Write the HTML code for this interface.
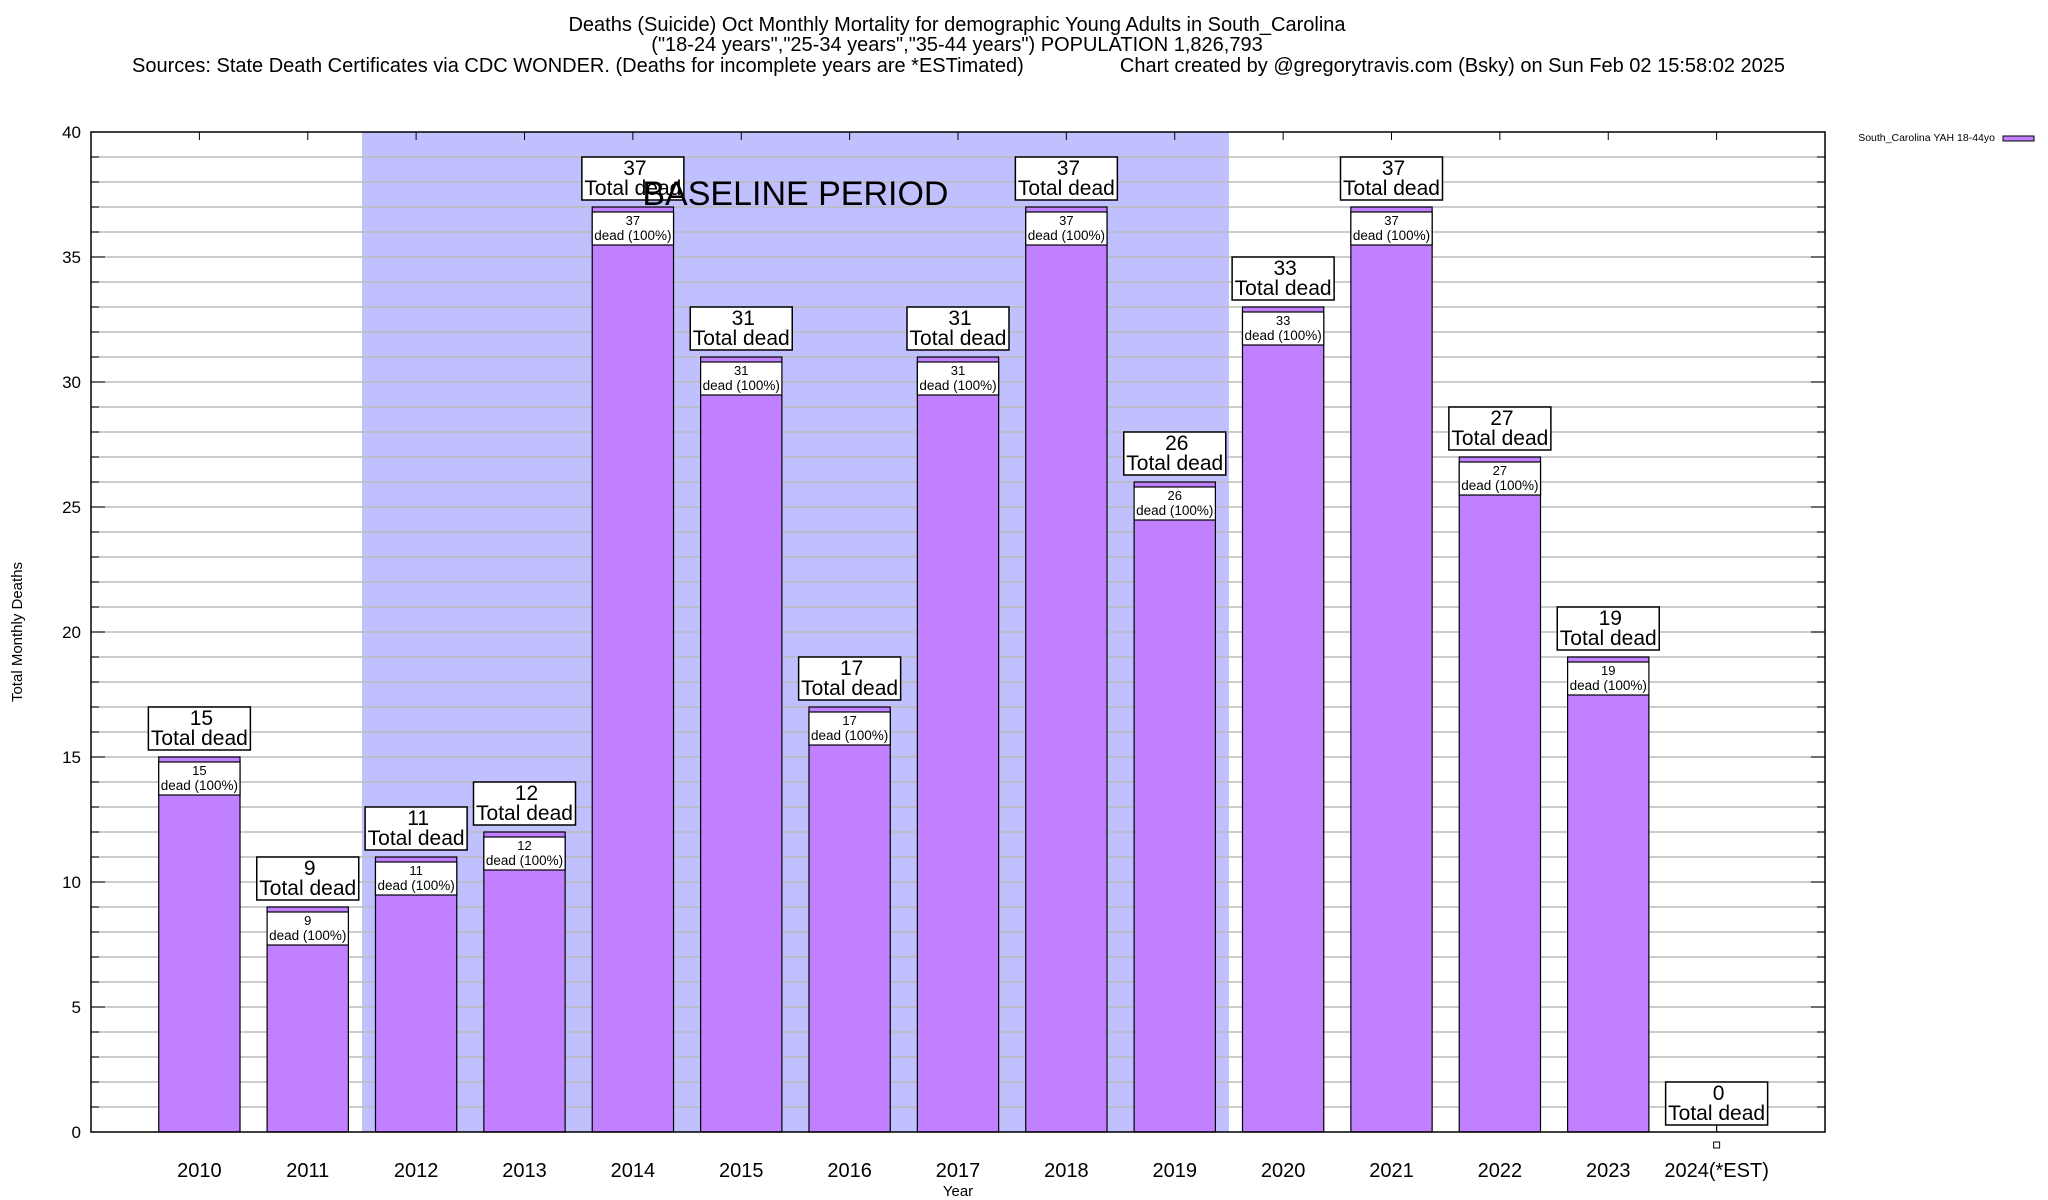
<!DOCTYPE html>
<html><head><meta charset="utf-8"><style>
html,body{margin:0;padding:0;background:#fff;}
svg{display:block;font-family:"Liberation Sans",sans-serif;}
</style></head><body>
<svg id="chart" width="2048" height="1200" xmlns="http://www.w3.org/2000/svg">
<g font-size="20" text-anchor="middle" fill="#000">
<text x="957" y="31">Deaths (Suicide) Oct Monthly Mortality for demographic Young Adults in South_Carolina</text>
<text x="957" y="51">("18-24 years","25-34 years","35-44 years") POPULATION 1,826,793</text>
<text x="132" y="72" text-anchor="start">Sources: State Death Certificates via CDC WONDER. (Deaths for incomplete years are *ESTimated)</text>
<text x="1785" y="72" text-anchor="end">Chart created by @gregorytravis.com (Bsky) on Sun Feb 02 15:58:02 2025</text>
</g>
<g id="plot"></g>
</svg>
<script>
const categories = ["2010","2011","2012","2013","2014","2015","2016","2017","2018","2019","2020","2021","2022","2023","2024(*EST)"];
const values = [15,9,11,12,37,31,17,31,37,26,33,37,27,19,0];
const yTicks = [0,5,10,15,20,25,30,35,40];
const baselineRange = [1.5, 9.5];

const L=91,R=1825,T=132,B=1132;
const xMin=-1,xMax=15,yMax=40;
const xs=v=>L+(v-xMin)/(xMax-xMin)*(R-L);
const ys=v=>B-v/yMax*(B-T);
const NS="http://www.w3.org/2000/svg";
const g=document.getElementById('plot');
function mk(tag,attrs,parent,text){const e=document.createElementNS(NS,tag);for(const k in attrs)e.setAttribute(k,attrs[k]);if(text!==undefined)e.textContent=text;(parent||g).appendChild(e);return e;}

let sh=mk('rect',{x:xs(baselineRange[0]),y:T,width:xs(baselineRange[1])-xs(baselineRange[0]),height:B-T,fill:'#c0c0ff'});



for(let v=1;v<yMax;v++){
  const l=mk('line',{x1:L,x2:R,y1:ys(v),y2:ys(v),stroke:'#bbb','stroke-width':1.5});
  
  
  mk('line',{x1:L,x2:L+8,y1:ys(v),y2:ys(v),stroke:'#000','stroke-width':1});
  mk('line',{x1:R-8,x2:R,y1:ys(v),y2:ys(v),stroke:'#000','stroke-width':1});
}
yTicks.forEach(v=>{
  const t=mk('text',{x:L-10,y:ys(v)+6,'font-size':17,'text-anchor':'end'},g,String(v));
  
  
  mk('line',{x1:L,x2:L+14,y1:ys(v),y2:ys(v),stroke:'#000','stroke-width':1});
  mk('line',{x1:R-14,x2:R,y1:ys(v),y2:ys(v),stroke:'#000','stroke-width':1});
});

let bt=mk('text',{x:xs((baselineRange[0]+baselineRange[1])/2),y:205,'font-size':34,'text-anchor':'middle'},g,'BASELINE PERIOD');

const bw=0.75*(xs(1)-xs(0));
categories.forEach((c,i)=>{
  const cx=xs(i), v=values[i];
  mk('line',{x1:cx,x2:cx,y1:T,y2:T+8,stroke:'#000','stroke-width':1});
  mk('line',{x1:cx,x2:cx,y1:B-8,y2:B,stroke:'#000','stroke-width':1});
  const tl=mk('text',{x:cx,y:1177,'font-size':20,'text-anchor':'middle'},g,c);
  
  
  if(v>0){
    const b=mk('rect',{x:cx-bw/2,y:ys(v),width:bw,height:B-ys(v),fill:'#c080ff',stroke:'#000','stroke-width':1.2});
    
    
    const ib=mk('rect',{x:cx-bw/2,y:ys(v)+5,width:bw,height:33,fill:'#fff',stroke:'#000','stroke-width':1.2});
    
    
    mk('text',{x:cx,y:ys(v)+18,'font-size':13,'text-anchor':'middle'},g,String(v));
    mk('text',{x:cx,y:ys(v)+33,'font-size':13.5,'text-anchor':'middle'},g,'dead (100%)');
  } else {
    mk('rect',{x:cx-3,y:1142,width:6,height:6,fill:'#fff',stroke:'#000','stroke-width':1});
    mk('line',{x1:cx,x2:cx,y1:ys(v)-7,y2:B,stroke:'#000','stroke-width':1});
  }
  const ly=ys(v)-7;
  const lb=mk('rect',{x:cx-51,y:ly-43,width:102,height:43,fill:'#fff',stroke:'#000','stroke-width':1.5});
  
  
  mk('text',{x:cx+2,y:ly-25,'font-size':21,'text-anchor':'middle'},g,String(v));
  mk('text',{x:cx,y:ly-5,'font-size':21,'text-anchor':'middle'},g,'Total dead');
});
g.appendChild(bt);



let fr=mk('rect',{x:L,y:T,width:R-L,height:B-T,fill:'none',stroke:'#000','stroke-width':1.5});



let yl=mk('text',{x:0,y:0,'font-size':15,'text-anchor':'middle',transform:'translate(22,632) rotate(-90)'},g,'Total Monthly Deaths');


let xl=mk('text',{x:958,y:1196,'font-size':15,'text-anchor':'middle'},g,'Year');



let lt=mk('text',{x:1995,y:141,'font-size':10.5,'text-anchor':'end'},g,'South_Carolina YAH 18-44yo');


let ls=mk('rect',{x:2003,y:136,width:31,height:5,fill:'#c080ff',stroke:'#000','stroke-width':1});


</script>
</body></html>
